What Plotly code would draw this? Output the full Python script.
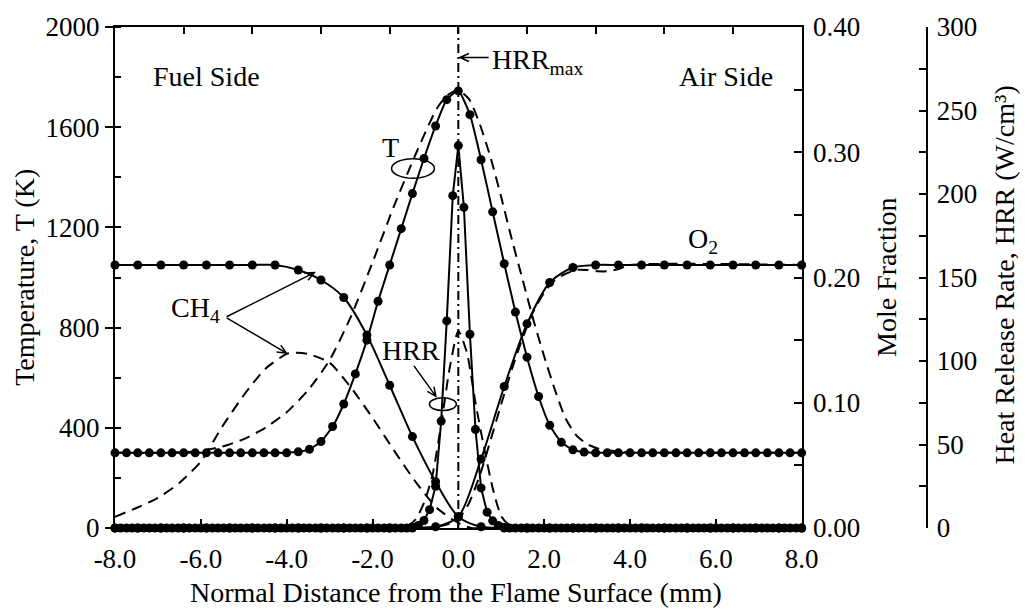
import math
import plotly.graph_objects as go

# ---------------- data ----------------
# solid (markers) temperature, 61-point grid
x_fine = [-8.00, -7.73, -7.47, -7.20, -6.93, -6.67, -6.40, -6.13, -5.87, -5.60, -5.33, -5.07,
          -4.80, -4.53, -4.27, -4.00, -3.73, -3.47, -3.20, -2.93, -2.67, -2.40, -2.13, -1.87,
          -1.60, -1.33, -1.07, -0.80, -0.53, -0.27, 0.00, 0.27, 0.53, 0.80, 1.07, 1.33, 1.60,
          1.87, 2.13, 2.40, 2.67, 2.93, 3.20, 3.47, 3.73, 4.00, 4.27, 4.53, 4.80, 5.07, 5.33,
          5.60, 5.87, 6.13, 6.40, 6.67, 6.93, 7.20, 7.47, 7.73, 8.00]
temp_solid = [300, 300, 300, 300, 300, 300, 300, 300, 300, 300, 300, 300, 300, 300, 300, 300,
              304, 314, 345, 405, 495, 615, 750, 905, 1050, 1195, 1335, 1475, 1605, 1710,
              1745,
              1650, 1470, 1262, 1055, 862, 682, 525, 410, 342, 312, 303,
              300, 300, 300, 300, 300, 300, 300, 300, 300, 300, 300, 300, 300, 300, 300, 300,
              300, 300, 300]

# solid (markers) species, 31-point grid
x_coarse = [-8.00, -7.47, -6.93, -6.40, -5.87, -5.33, -4.80, -4.27, -3.73, -3.20, -2.67, -2.13,
            -1.60, -1.07, -0.53, 0.00, 0.53, 1.07, 1.60, 2.13, 2.67, 3.20, 3.73, 4.27, 4.80,
            5.33, 5.87, 6.40, 6.93, 7.47, 8.00]
ch4_solid = [0.21, 0.21, 0.21, 0.21, 0.21, 0.21, 0.21, 0.21,
             0.206, 0.198, 0.184, 0.154, 0.114, 0.073, 0.037, 0.009, 0.001,
             0.0, 0.0, 0.0, 0.0, 0.0, 0.0, 0.0, 0.0, 0.0, 0.0, 0.0, 0.0, 0.0, 0.0]
o2_solid = [0.0, 0.0, 0.0, 0.0, 0.0, 0.0, 0.0, 0.0, 0.0, 0.0, 0.0, 0.0, 0.0, 0.0,
            0.001, 0.009, 0.055, 0.113, 0.163, 0.196, 0.208,
            0.21, 0.21, 0.21, 0.21, 0.21, 0.21, 0.21, 0.21, 0.21, 0.21]

# solid (markers) heat release rate, 121-point grid
x_hrr = [-8.00, -7.87, -7.73, -7.60, -7.47, -7.33, -7.20, -7.07, -6.93, -6.80, -6.67, -6.53,
         -6.40, -6.27, -6.13, -6.00, -5.87, -5.73, -5.60, -5.47, -5.33, -5.20, -5.07, -4.93,
         -4.80, -4.67, -4.53, -4.40, -4.27, -4.13, -4.00, -3.87, -3.73, -3.60, -3.47, -3.33,
         -3.20, -3.07, -2.93, -2.80, -2.67, -2.53, -2.40, -2.27, -2.13, -2.00, -1.87, -1.73,
         -1.60, -1.47, -1.33, -1.20, -1.07, -0.93, -0.80, -0.67, -0.53, -0.40, -0.27, -0.13,
         0.00,
         0.13, 0.27, 0.40, 0.53, 0.67, 0.80, 0.93, 1.07, 1.20, 1.33, 1.47, 1.60,
         1.73, 1.87, 2.00, 2.13, 2.27, 2.40, 2.53, 2.67, 2.80, 2.93, 3.07, 3.20,
         3.33, 3.47, 3.60, 3.73, 3.87, 4.00, 4.13, 4.27, 4.40, 4.53, 4.67, 4.80,
         4.93, 5.07, 5.20, 5.33, 5.47, 5.60, 5.73, 5.87, 6.00, 6.13, 6.27, 6.40,
         6.53, 6.67, 6.80, 6.93, 7.07, 7.20, 7.33, 7.47, 7.60, 7.73, 7.87, 8.00]
hrr_solid = [0, 0, 0, 0, 0, 0, 0, 0, 0, 0, 0, 0, 0, 0, 0, 0, 0, 0, 0, 0, 0, 0, 0, 0, 0, 0,
             0, 0, 0, 0, 0, 0, 0, 0, 0, 0, 0, 0, 0, 0, 0, 0, 0, 0, 0, 0, 0, 0, 0, 0, 0, 0,
             0.5, 1.5, 4.5, 11, 25, 64, 124, 199,
             229,
             192, 116, 59, 24, 9.5, 4.3, 1.5, 0.5,
             0, 0, 0, 0, 0, 0, 0, 0, 0, 0, 0, 0, 0, 0, 0, 0, 0, 0, 0, 0, 0, 0, 0, 0, 0, 0,
             0, 0, 0, 0, 0, 0, 0, 0, 0, 0, 0, 0, 0, 0, 0, 0, 0, 0, 0, 0, 0, 0, 0, 0, 0, 0]

# dashed (second model) curves
x_temp_dash = [-8.0, -7.0, -6.5, -6.0, -5.5, -5.0, -4.5, -4.0, -3.5, -3.0, -2.5, -2.0, -1.5,
               -1.0, -0.5, -0.25, 0.0, 0.25, 0.5, 0.75, 1.0, 1.25, 1.5, 1.75, 2.0, 2.25, 2.5,
               2.75, 3.0, 3.25, 3.5, 4.0, 5.0, 6.0, 7.0, 8.0]
temp_dash = [300, 300, 302, 308, 325, 355, 400, 462, 550, 670, 845, 1060, 1285,
             1490, 1675, 1728, 1748, 1712, 1612, 1480, 1320, 1150, 990, 830, 685, 552, 437,
             370, 335, 318, 310, 302, 300, 300, 300, 300]

x_ch4_dash = [-8.0, -7.5, -7.0, -6.5, -6.0, -5.5, -5.0, -4.5, -4.0, -3.75, -3.5, -3.0, -2.5,
              -2.0, -1.5, -1.0, -0.5, 0.0, 0.3, 0.6]
ch4_dash = [0.009, 0.016, 0.024, 0.036, 0.053, 0.081, 0.106, 0.127, 0.139, 0.140, 0.139,
            0.132, 0.112, 0.088, 0.062, 0.037, 0.016, 0.004, 0.0, 0.0]

x_o2_dash = [-8.0, -1.0, -0.5, -0.25, 0.0, 0.25, 0.5, 0.75, 1.0, 1.25, 1.5, 1.75, 2.0, 2.25,
             2.5, 2.75, 3.0, 3.25, 3.5, 3.75, 4.0, 8.0]
o2_dash = [0.0, 0.0, 0.001, 0.003, 0.007, 0.02, 0.042, 0.07, 0.099, 0.127, 0.152, 0.173,
           0.188, 0.198, 0.203, 0.206, 0.206, 0.205, 0.205, 0.207, 0.21, 0.21]

x_hrr_dash = [-1.6, -1.4, -1.2, -1.0, -0.8, -0.6, -0.4, -0.2, 0.0, 0.2, 0.4, 0.6, 0.8, 1.0,
              1.2, 1.4, 1.6]
hrr_dash = [0, 0.3, 1, 5, 15, 32, 62, 96, 118, 105, 75, 48, 24, 7, 1.5, 0.3, 0]

hrr_max_x = 0.0

x_tick_vals = [-8, -6, -4, -2, 0, 2, 4, 6, 8]
x_tick_labels = ["-8.0", "-6.0", "-4.0", "-2.0", "0.0", "2.0", "4.0", "6.0", "8.0"]
top_tick_vals = [-8.0, -6.4, -4.8, -3.2, -1.6, 0.0, 1.6, 3.2, 4.8, 6.4, 8.0]

# ---------------- layout geometry (pixels) ----------------
W, H = 1026, 613
PL, PR, PT, PB = 115, 804, 18, 528
ML, MR = 115, 26
PAPER_W = W - ML - MR
X0, X1 = -8.0, 8.0
T0, T1 = 0.0, 2000.0


def px2x(px):
    return X0 + (px - PL) * (X1 - X0) / (PR - PL)


def py2y(py):
    return T0 + (PB - py) * (T1 - T0) / (PB - PT)


def arrow_path(x0, y0, x1, y1, length=10, ang=24):
    dx, dy = x1 - x0, y1 - y0
    n = math.hypot(dx, dy)
    ux, uy = -dx / n, -dy / n
    pts = []
    for s in (1, -1):
        a = math.radians(ang) * s
        rx = ux * math.cos(a) - uy * math.sin(a)
        ry = ux * math.sin(a) + uy * math.cos(a)
        pts.append((x1 + rx * length, y1 + ry * length))
    p = (f"M{px2x(x0)},{py2y(y0)} L{px2x(x1)},{py2y(y1)} "
         f"M{px2x(pts[0][0])},{py2y(pts[0][1])} L{px2x(x1)},{py2y(y1)} "
         f"L{px2x(pts[1][0])},{py2y(pts[1][1])}")
    return dict(type="path", xref="x", yref="y", path=p,
                line=dict(color="black", width=1.5))


def ellipse(cx, cy, w, h):
    return dict(type="circle", xref="x", yref="y",
                x0=px2x(cx - w / 2), x1=px2x(cx + w / 2),
                y0=py2y(cy + h / 2), y1=py2y(cy - h / 2),
                line=dict(color="black", width=1.5))


FONT = "Liberation Serif"
TICKFONT = dict(family=FONT, size=27, color="black")
TXT = 28

fig = go.Figure()

line_solid = dict(color="black", width=2)
line_dash = dict(color="black", width=2, dash="11px,7px")
mk = dict(symbol="circle", size=9, color="black")

# dashed curves
fig.add_trace(go.Scatter(x=x_temp_dash, y=temp_dash, mode="lines", line=dict(**line_dash, shape="spline", smoothing=0.6), yaxis="y", cliponaxis=False))
fig.add_trace(go.Scatter(x=x_ch4_dash, y=ch4_dash, mode="lines", line=dict(**line_dash, shape="spline", smoothing=0.6), yaxis="y2", cliponaxis=False))
fig.add_trace(go.Scatter(x=x_o2_dash, y=o2_dash, mode="lines", line=dict(**line_dash, shape="spline", smoothing=0.6), yaxis="y2", cliponaxis=False))
fig.add_trace(go.Scatter(x=x_hrr_dash, y=hrr_dash, mode="lines", line=dict(**line_dash, shape="spline", smoothing=0.6), yaxis="y3", cliponaxis=False))

# solid curves with markers
fig.add_trace(go.Scatter(x=x_fine, y=temp_solid, mode="lines+markers", line=dict(**line_solid, shape="spline", smoothing=0.5), marker=mk, yaxis="y", cliponaxis=False))
fig.add_trace(go.Scatter(x=x_coarse, y=ch4_solid, mode="lines+markers", line=dict(**line_solid, shape="spline", smoothing=0.8), marker=mk, yaxis="y2", cliponaxis=False))
fig.add_trace(go.Scatter(x=x_coarse, y=o2_solid, mode="lines+markers", line=dict(**line_solid, shape="spline", smoothing=0.8), marker=mk, yaxis="y2", cliponaxis=False))
fig.add_trace(go.Scatter(x=x_hrr, y=hrr_solid, mode="lines+markers", line=line_solid, marker=mk, yaxis="y3", cliponaxis=False))

# dummy trace for the top axis
fig.add_trace(go.Scatter(x=[X0, X1], y=[T0, T0], mode="lines", line=dict(width=0), xaxis="x2", yaxis="y", hoverinfo="skip", showlegend=False))

shapes = [
    dict(type="line", xref="x", yref="y", x0=hrr_max_x, x1=hrr_max_x, y0=T0, y1=T1,
         line=dict(color="black", width=2, dash="9px,4px,2px,4px")),
    ellipse(414, 162, 43, 20),
    ellipse(444, 402, 27, 13),
    arrow_path(490, 49, 461, 49),
    arrow_path(227, 313, 315, 268),
    arrow_path(227, 314, 287, 350),
    arrow_path(415, 363, 437, 394),
]


def txt(px, py, s, anchor="center"):
    return dict(x=px2x(px), y=py2y(py), xref="x", yref="y", text=s, showarrow=False,
                xanchor=anchor, yanchor="middle", font=dict(family=FONT, size=TXT, color="black"))


annotations = [
    txt(207, 68, "Fuel Side"),
    txt(728, 68, "Air Side"),
    txt(491, 53, "HRR<sub>max</sub>", "left"),
    txt(391, 141, "T"),
    txt(196, 306, "CH<sub>4</sub>"),
    txt(705, 235, "O<sub>2</sub>"),
    txt(412, 347, "HRR"),
    dict(x=(24 - ML) / PAPER_W, y=0.5, xref="paper", yref="paper", text="Temperature, T (K)",
         textangle=-90, showarrow=False, xanchor="center", yanchor="middle",
         font=dict(family=FONT, size=TXT, color="black")),
    dict(x=(889 - ML) / PAPER_W, y=0.5, xref="paper", yref="paper", text="Mole Fraction",
         textangle=-90, showarrow=False, xanchor="center", yanchor="middle",
         font=dict(family=FONT, size=TXT, color="black")),
    dict(x=(1008 - ML) / PAPER_W, y=(PB - 270) / (PB - PT), xref="paper", yref="paper",
         text="Heat Release Rate, HRR (W/cm³)",
         textangle=-90, showarrow=False, xanchor="center", yanchor="middle",
         font=dict(family=FONT, size=TXT, color="black")),
    dict(x=(457.5 - ML) / PAPER_W, y=(PB - 594) / (PB - PT), xref="paper", yref="paper",
         text="Normal Distance from the Flame Surface (mm)", showarrow=False,
         xanchor="center", yanchor="middle", font=dict(family=FONT, size=TXT, color="black")),
]

axis_common = dict(showgrid=False, zeroline=False, showline=True, linecolor="black",
                   linewidth=2, tickcolor="black", tickwidth=2, tickfont=TICKFONT)

fig.update_layout(
    width=W, height=H,
    margin=dict(l=ML, r=MR, t=PT, b=H - PB, pad=0),
    paper_bgcolor="white", plot_bgcolor="white",
    showlegend=False,
    font=dict(family=FONT, color="black"),
    xaxis=dict(domain=[0, (PR - PL) / PAPER_W], range=[X0, X1], tickmode="array",
               tickvals=x_tick_vals, ticktext=x_tick_labels, ticks="inside", ticklen=9,
               ticklabelstandoff=6, **axis_common),
    xaxis2=dict(overlaying="x", side="top", anchor="y", range=[X0, X1], tickmode="array",
                tickvals=top_tick_vals, ticks="inside", ticklen=7, showticklabels=False,
                **axis_common),
    yaxis=dict(range=[T0, T1], tick0=0, dtick=400, ticks="outside", ticklen=8,
               minor=dict(dtick=200, tick0=0, ticks="inside", ticklen=6, tickwidth=2,
                          tickcolor="black", showgrid=False),
               ticklabelstandoff=0, **axis_common),
    yaxis2=dict(overlaying="y", side="right", anchor="x", range=[0, 0.4], tick0=0, dtick=0.1,
                tickformat=".2f", ticks="inside", ticklen=8,
                minor=dict(dtick=0.05, tick0=0, ticks="inside", ticklen=8, tickwidth=2,
                           tickcolor="black", showgrid=False),
                ticklabelstandoff=4, **axis_common),
    yaxis3=dict(overlaying="y", side="right", anchor="free", position=(930 - ML) / PAPER_W,
                range=[0, 300], tick0=0, dtick=50, ticks="inside", ticklen=7,
                minor=dict(dtick=25, tick0=0, ticks="inside", ticklen=7, tickwidth=2,
                           tickcolor="black", showgrid=False),
                ticklabelstandoff=3, **axis_common),
    shapes=shapes,
    annotations=annotations,
)

fig.write_html("out.html")
